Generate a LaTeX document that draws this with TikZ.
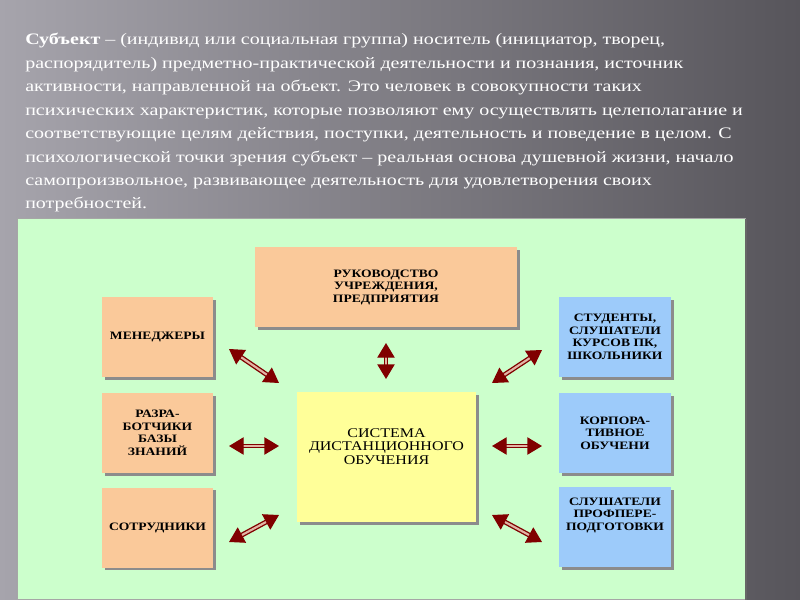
\documentclass[tikz,border=0pt]{standalone}
\usepackage{fontspec}
\setmainfont{Liberation Serif}
\newfontfamily\boxfont[FakeStretch=1.2]{Liberation Serif}
\newfontfamily\parafont[FakeStretch=1.25]{Liberation Serif}
\usetikzlibrary{arrows.meta,shadows}
\definecolor{bgl}{HTML}{A6A4AC}
\definecolor{bgr}{HTML}{57555B}
\definecolor{panel}{HTML}{CCFFCC}
\definecolor{peach}{HTML}{FAC99A}
\definecolor{sky}{HTML}{9DCBFA}
\definecolor{lemon}{HTML}{FFFF99}
\definecolor{maroon}{HTML}{800000}
\definecolor{shaft}{HTML}{E2B4A4}
\begin{document}
\begin{tikzpicture}[x=0.75pt, y=-0.75pt,
    box/.style={minimum width=#1*0.75pt, minimum height=60pt, inner sep=0pt, align=center,
      font=\boxfont\bfseries\fontsize{8.5}{9.4}\selectfont,
      drop shadow={shadow xshift=2pt, shadow yshift=-2pt, fill=black!45, opacity=1}},
    orange/.style={box=#1, fill=peach},
    blue/.style={box=#1, fill=sky},
    link/.style={draw=maroon, line width=1pt, double=shaft, double distance=1.6pt,
      {Triangle[length=11pt, width=13pt, fill=maroon]}-{Triangle[length=11pt, width=13pt, fill=maroon]}}]
  \useasboundingbox (0,0) rectangle (800,600);
  \shade[left color=bgl, right color=bgr] (0,0) rectangle (800,600);
  \node[anchor=north west, align=left, text=white, inner sep=0pt,
    font=\parafont\fontsize{12}{17.6}\selectfont] (intro) at (25,33)
    {\textbf{Субъект} – (индивид или социальная группа) носитель (инициатор, творец,\\
     распорядитель) предметно-практической деятельности и познания, источник\\
     активности, направленной на объект. Это человек в совокупности таких\\
     психических характеристик, которые позволяют ему осуществлять целеполагание и\\
     соответствующие целям действия, поступки, деятельность и поведение в целом. С\\
     психологической точки зрения субъект – реальная основа душевной жизни, начало\\
     самопроизвольное, развивающее деятельность для удовлетворения своих\\
     потребностей.};
  \filldraw[fill=panel, draw=black!35] (17,218) rectangle (745,599);
  \draw[black!60, line width=1pt] (746,219) -- (746,600);
  \node[orange=262] (ruk) at (386,287) {РУКОВОДСТВО\\УЧРЕЖДЕНИЯ,\\ПРЕДПРИЯТИЯ};
  \node[orange=111] (men) at (157.5,337) {МЕНЕДЖЕРЫ};
  \node[orange=111] (razr) at (157.5,433) {РАЗРА-\\БОТЧИКИ\\БАЗЫ\\ЗНАНИЙ};
  \node[orange=111] (sotr) at (157.5,527.5) {СОТРУДНИКИ};
  \node[box=179, minimum height=97.5pt, fill=lemon] (sys) at (386.5,457) {};
  \node[font=\boxfont\fontsize{10}{10.2}\selectfont, align=center] (systext) at (386.5,446.5)
    {СИСТЕМА\\ДИСТАНЦИОННОГО\\ОБУЧЕНИЯ};
  \node[blue=112] (stud) at (615,337) {СТУДЕНТЫ,\\СЛУШАТЕЛИ\\КУРСОВ ПК,\\ШКОЛЬНИКИ};
  \node[blue=112] (korp) at (615,433) {КОРПОРА-\\ТИВНОЕ\\ОБУЧЕНИ};
  \node[blue=112] (prof) at (615,527) {};
  \node[font=\boxfont\bfseries\fontsize{8.5}{9.4}\selectfont, align=center] (proftext) at (615,515)
    {СЛУШАТЕЛИ\\ПРОФПЕРЕ-\\ПОДГОТОВКИ};
  \coordinate (m1) at (229,349); \coordinate (m2) at (279,383);
  \coordinate (r1) at (386,343); \coordinate (r2) at (386,379);
  \coordinate (z1) at (229,446); \coordinate (z2) at (279,446);
  \coordinate (s1) at (229,542); \coordinate (s2) at (279,515);
  \coordinate (t1) at (492,383); \coordinate (t2) at (542,350);
  \coordinate (k1) at (492,446); \coordinate (k2) at (542,446);
  \coordinate (p1) at (492,515); \coordinate (p2) at (542,542);
  \draw[link] (m1) -- (m2);
  \draw[link] (r1) -- (r2);
  \draw[link] (z1) -- (z2);
  \draw[link] (s1) -- (s2);
  \draw[link] (t1) -- (t2);
  \draw[link] (k1) -- (k2);
  \draw[link] (p1) -- (p2);
\end{tikzpicture}
\end{document}
